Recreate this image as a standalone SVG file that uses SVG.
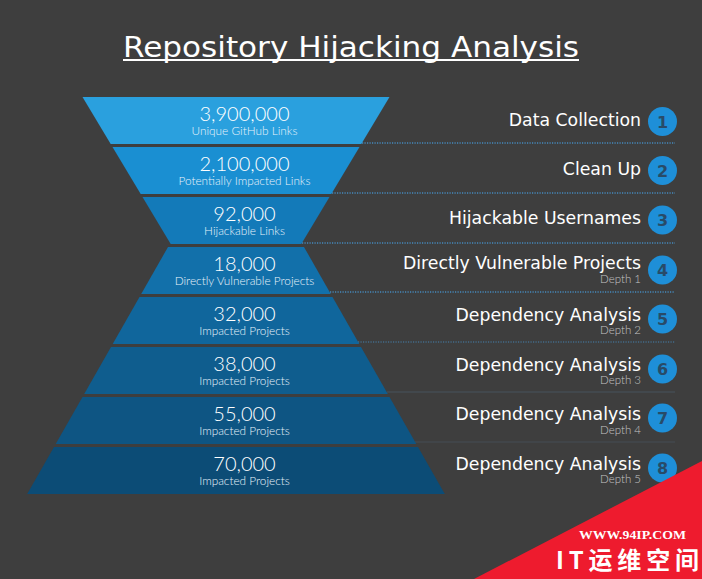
<svg xmlns="http://www.w3.org/2000/svg" width="702" height="579" viewBox="0 0 702 579">
<style>
.num{font-family:Lato,"Open Sans",sans-serif;font-weight:300;font-size:20px;fill:#fff;text-anchor:middle}
.sub{font-family:Lato,"Open Sans",sans-serif;font-weight:300;font-size:11.8px;fill:#e8f2fa;text-anchor:middle}
.lbl{font-family:"DejaVu Sans",sans-serif;font-size:17.3px;fill:#fff;text-anchor:end}
.dep{font-family:Lato,sans-serif;font-weight:300;font-size:11.5px;fill:#c4c4c4;text-anchor:end}
.circ{fill:#1e8fd8}
.cn{font-family:"DejaVu Sans",sans-serif;font-weight:bold;font-size:16px;fill:#284b68;text-anchor:middle}
.dot{stroke:#4688bb;stroke-width:1.4;stroke-dasharray:1.2 1.3;fill:none}
</style>
<rect width="702" height="579" fill="#3e3e3e"/>
<g id="title">
<text x="351" y="57" font-family="DejaVu Sans,sans-serif" font-size="29" fill="#fff" text-anchor="middle" textLength="456" lengthAdjust="spacingAndGlyphs">Repository Hijacking Analysis</text>
<line x1="123" y1="60" x2="579" y2="60" stroke="#fff" stroke-width="2"/>
</g>
<g id="connectors">
<line class="dot" x1="362" y1="143" x2="675" y2="143"/>
<line class="dot" x1="332" y1="193" x2="675" y2="193"/>
<line class="dot" x1="302" y1="243" x2="675" y2="243"/>
<line class="dot" x1="330" y1="292" x2="675" y2="292"/>
<line class="dot" x1="358" y1="342" x2="675" y2="342" stroke-opacity="0.6"/>
<line x1="387" y1="392" x2="675" y2="392" stroke="#46525c" stroke-width="1.2"/>
<line x1="415" y1="442" x2="675" y2="442" stroke="#444c54" stroke-width="1.2"/>
</g>
<g id="band1"><polygon points="82.5,97 389.5,97 361.3,144 110.7,144" fill="#2aa0de"/><text class="num" x="244.5" y="120.5">3,900,000</text><text class="sub" x="244.5" y="135">Unique GitHub Links</text></g>
<g id="band2"><polygon points="112.5,147 359.5,147 331.3,194 140.7,194" fill="#1a8fd2"/><text class="num" x="244.5" y="170.5">2,100,000</text><text class="sub" x="244.5" y="185">Potentially Impacted Links</text></g>
<g id="band3"><polygon points="142.5,197 329.5,197 301.3,244 170.7,244" fill="#137ab9"/><text class="num" x="244.5" y="220.5">92,000</text><text class="sub" x="244.5" y="235">Hijackable Links</text></g>
<g id="band4"><polygon points="168,247 304,247 330.8,294 141.2,294" fill="#1270aa"/><text class="num" x="244.5" y="270.5">18,000</text><text class="sub" x="244.5" y="285">Directly Vulnerable Projects</text></g>
<g id="band5"><polygon points="139.5,297 332.5,297 359.3,344 112.7,344" fill="#10669c"/><text class="num" x="244.5" y="320.5">32,000</text><text class="sub" x="244.5" y="335">Impacted Projects</text></g>
<g id="band6"><polygon points="111,347 361,347 387.8,394 84.2,394" fill="#0f5d8e"/><text class="num" x="244.5" y="370.5">38,000</text><text class="sub" x="244.5" y="385">Impacted Projects</text></g>
<g id="band7"><polygon points="82.5,397 389.5,397 416.3,444 55.7,444" fill="#0e5583"/><text class="num" x="244.5" y="420.5">55,000</text><text class="sub" x="244.5" y="435">Impacted Projects</text></g>
<g id="band8"><polygon points="54,447 418,447 444.8,494 27.2,494" fill="#0c4c76"/><text class="num" x="244.5" y="470.5">70,000</text><text class="sub" x="244.5" y="485">Impacted Projects</text></g>
<g id="step1"><text class="lbl" x="641" y="126">Data Collection</text><circle class="circ" cx="662.5" cy="121.5" r="14.5"/><text class="cn" x="662.5" y="127.5">1</text></g>
<g id="step2"><text class="lbl" x="641" y="175">Clean Up</text><circle class="circ" cx="662.5" cy="170.5" r="14.5"/><text class="cn" x="662.5" y="176.5">2</text></g>
<g id="step3"><text class="lbl" x="641" y="224">Hijackable Usernames</text><circle class="circ" cx="662.5" cy="220" r="14.5"/><text class="cn" x="662.5" y="226">3</text></g>
<g id="step4"><text class="lbl" x="641" y="269">Directly Vulnerable Projects</text><text class="dep" x="641" y="283">Depth 1</text><circle class="circ" cx="662.5" cy="270" r="14.5"/><text class="cn" x="662.5" y="276">4</text></g>
<g id="step5"><text class="lbl" x="641" y="320.5">Dependency Analysis</text><text class="dep" x="641" y="334">Depth 2</text><circle class="circ" cx="662.5" cy="319" r="14.5"/><text class="cn" x="662.5" y="325">5</text></g>
<g id="step6"><text class="lbl" x="641" y="370.5">Dependency Analysis</text><text class="dep" x="641" y="384">Depth 3</text><circle class="circ" cx="662.5" cy="369" r="14.5"/><text class="cn" x="662.5" y="375">6</text></g>
<g id="step7"><text class="lbl" x="641" y="420">Dependency Analysis</text><text class="dep" x="641" y="433.5">Depth 4</text><circle class="circ" cx="662.5" cy="418" r="14.5"/><text class="cn" x="662.5" y="424">7</text></g>
<g id="step8"><text class="lbl" x="641" y="469.5">Dependency Analysis</text><text class="dep" x="641" y="483">Depth 5</text><circle class="circ" cx="662.5" cy="468" r="14.5"/><text class="cn" x="662.5" y="474">8</text></g>
<g id="watermark">
<polygon points="702,461 702,579 474,579" fill="#ee1b2e"/>
<text x="579" y="539" font-family="Liberation Serif,serif" font-weight="bold" font-size="13.5" fill="#fff" textLength="107" lengthAdjust="spacingAndGlyphs">WWW.94IP.COM</text>
<text x="556" y="569" font-family="Noto Sans CJK SC,sans-serif" font-weight="bold" font-size="24" fill="#fff" textLength="143" lengthAdjust="spacing">IT运维空间</text>
</g>
</svg>
